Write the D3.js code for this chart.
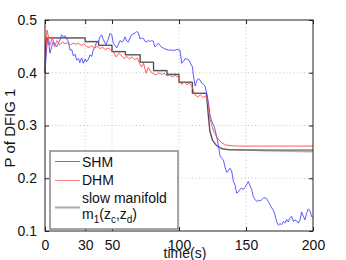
<!DOCTYPE html>
<html><head><meta charset="utf-8">
<script src="https://cdn.jsdelivr.net/npm/d3@7"></script>
<style>body{margin:0;background:#fff}svg{display:block}text{font-family:"Liberation Sans",Arial,sans-serif}</style>
</head><body><svg id="c" width="346" height="260"></svg>
<script>
const xTicks=[0,30,50,100,150,200];
const yTicks=[0.1,0.2,0.3,0.4,0.5];
const xGrid=[30,50,100,150];
const yGrid=[0.2,0.3,0.4];
const legendLabels=["SHM","DHM","slow manifold"];

const shmT=[0,1,2,3,3.7,5,6.2,8.7,11.2,12.4,13.7,15,16.2,17.4,18.7,20,21.1,22.5,23.6,25,26,27.3,28.6,30,31,32.3,33.6,35,36,37.5,38.6,40,41,42.3,43.5,45.5,47,48.5,49.8,51,52.2,53.5,55,56,57.5,58.5,59.7,61,62.2,63.4,64.7,66,67.2,68.4,69.7,70.9,72,73.4,74.6,75.9,77.2,78.4,79.6,80.8,82,83.3,84.6,85.8,87,88.3,89.6,92,94.5,96,98.3,100.7,102,103.2,104.5,105.7,107,108.2,110,110.7,112,113.2,114.4,115.7,117,118.2,119.4,120.6,121.9,123.1,124.4,125.6,126.3,128,129.4,130.6,131.8,133.1,134.3,135.6,136.8,138,139.3,140.5,141.8,143,144.3,145.5,146.8,148,149.3,150.5,151.7,153,154.2,155.4,156.7,158,159.2,160.4,161.7,162.9,164.2,165.4,166.7,167.9,169.2,170.4,171.6,172.9,174.1,175.4,176.6,177.9,179.1,180.3,181.5,182.8,184.1,185.3,186.6,187.8,189,190.3,191.5,192.8,194,195.2,196.5,197.8,199,200];
const shmP=[0.40,0.44,0.465,0.452,0.437,0.45,0.459,0.449,0.462,0.472,0.468,0.47,0.465,0.459,0.443,0.444,0.432,0.435,0.424,0.427,0.419,0.428,0.418,0.426,0.421,0.425,0.434,0.431,0.443,0.45,0.459,0.46,0.468,0.472,0.463,0.453,0.462,0.475,0.472,0.456,0.452,0.447,0.455,0.461,0.458,0.46,0.468,0.46,0.458,0.466,0.472,0.474,0.475,0.478,0.476,0.464,0.466,0.465,0.46,0.458,0.462,0.459,0.461,0.46,0.449,0.452,0.456,0.452,0.448,0.447,0.445,0.443,0.443,0.442,0.444,0.443,0.418,0.421,0.427,0.426,0.425,0.42,0.411,0.396,0.375,0.384,0.389,0.386,0.38,0.378,0.375,0.361,0.345,0.32,0.308,0.302,0.298,0.28,0.262,0.243,0.238,0.235,0.222,0.211,0.214,0.219,0.214,0.195,0.187,0.172,0.174,0.179,0.181,0.179,0.183,0.188,0.194,0.186,0.179,0.165,0.16,0.156,0.158,0.157,0.159,0.162,0.163,0.161,0.156,0.15,0.144,0.139,0.131,0.118,0.111,0.114,0.112,0.118,0.115,0.122,0.117,0.125,0.128,0.118,0.121,0.119,0.115,0.121,0.136,0.128,0.121,0.133,0.142,0.138,0.127,0.125];

const dhmT=[0,0.8,1.5,2.5,3.5,4.5,5.5,7,9,11,13,15,17,19,21,23,25,27,29,31,33,35,37,39,41,43,45,47,49,51,53,55,57,59,61,63,65,67,69,70.5,72,73.5,75.5,77,79,81,83,85,87,89,91,93,95,97,99,100.5,102,104,106,108,110,112,114,116,118,120,121,122,123,124,125,126,128,130,132,135,140,145,150,200];
const dhmP=[0.40,0.45,0.481,0.47,0.452,0.458,0.468,0.449,0.461,0.453,0.458,0.455,0.457,0.453,0.456,0.454,0.456,0.452,0.455,0.45,0.448,0.451,0.447,0.45,0.446,0.448,0.444,0.447,0.443,0.44,0.43,0.437,0.433,0.427,0.431,0.426,0.43,0.425,0.428,0.418,0.411,0.418,0.399,0.41,0.402,0.398,0.396,0.4,0.397,0.399,0.394,0.396,0.392,0.395,0.393,0.385,0.378,0.383,0.377,0.381,0.372,0.358,0.354,0.358,0.353,0.356,0.35,0.336,0.314,0.305,0.296,0.288,0.279,0.272,0.267,0.263,0.2615,0.261,0.261,0.261];

const manT=[0,0.5,1,30,30,40,40,50,50,60,60,71,71,81,81,91,91,100,100,110,110,120.5,121.5,123,125,128,132,137,150,165,200];
const manP=[0.40,0.45,0.466,0.466,0.459,0.459,0.452,0.452,0.440,0.440,0.434,0.434,0.420,0.420,0.404,0.404,0.397,0.397,0.382,0.382,0.361,0.361,0.33,0.29,0.272,0.262,0.256,0.254,0.2535,0.252,0.2505];
const stairT=[0,0.5,1,30,30,40,40,50,50,60,60,71,71,81,81,91,91,100,100,110,110,120.5,121.5,123,125,128,132,137,150,200];
const stairP=[0.40,0.45,0.466,0.466,0.459,0.459,0.452,0.452,0.440,0.440,0.434,0.434,0.420,0.420,0.404,0.404,0.397,0.397,0.382,0.382,0.361,0.361,0.33,0.29,0.272,0.262,0.256,0.254,0.2535,0.2535];

const svg=d3.select("#c");
const L=45,R=313,T=20,B=231;
const x=d3.scaleLinear().domain([0,200]).range([L,R]);
const y=d3.scaleLinear().domain([0.1,0.5]).range([B,T]);

const g=svg.append("g");
g.selectAll(".gx").data(xGrid).join("line").attr("x1",d=>x(d)).attr("x2",d=>x(d)).attr("y1",T).attr("y2",B)
 .attr("stroke","#bbb").attr("stroke-width",0.8).attr("stroke-dasharray","1,2.5");
g.selectAll(".gy").data(yGrid).join("line").attr("y1",d=>y(d)).attr("y2",d=>y(d)).attr("x1",L).attr("x2",R)
 .attr("stroke","#bbb").attr("stroke-width",0.8).attr("stroke-dasharray","1,2.5");

const line=(ts,ps)=>d3.line().x((d,i)=>x(ts[i])).y((d,i)=>y(ps[i]))(ts);
svg.append("path").attr("d",line(manT,manP)).attr("fill","none").attr("stroke","#b0b0b0").attr("stroke-width",1.6);
svg.append("path").attr("d",line(stairT,stairP)).attr("fill","none").attr("stroke","#3a3a3a").attr("stroke-width",0.9);
svg.append("path").attr("d",line(shmT,shmP)).attr("fill","none").attr("stroke","#4848ff").attr("stroke-width",0.9);
svg.append("path").attr("d",line(dhmT,dhmP)).attr("fill","none").attr("stroke","#ff4848").attr("stroke-width",0.9);

// axes
const ax=(gen,tr)=>svg.append("g").attr("transform",tr).call(gen);
const styleAx=s=>{s.select(".domain").remove();s.selectAll("line").attr("stroke","#222");s.selectAll("text").attr("font-size",14).attr("fill","#111").attr("font-family","Liberation Sans, Arial, sans-serif");};
const xb=ax(d3.axisBottom(x).tickValues(xTicks).tickFormat(d3.format("d")).tickSizeInner(-4).tickPadding(9),`translate(0,${B})`);styleAx(xb);
const xt=ax(d3.axisTop(x).tickValues(xTicks).tickSizeInner(-4).tickFormat(""),`translate(0,${T})`);styleAx(xt);
const yl=ax(d3.axisLeft(y).tickValues(yTicks).tickFormat(d3.format(".1f")).tickSizeInner(-4).tickPadding(8),`translate(${L},0)`);styleAx(yl);
const yr=ax(d3.axisRight(y).tickValues(yTicks).tickSizeInner(-4).tickFormat(""),`translate(${R},0)`);styleAx(yr);
svg.append("rect").attr("x",L).attr("y",T).attr("width",R-L).attr("height",B-T).attr("fill","none").attr("stroke","#222").attr("stroke-width",1);

svg.append("text").attr("x",185).attr("y",258).attr("text-anchor","middle").attr("font-size",14).attr("fill","#111").text("time(s)");
svg.append("text").attr("transform","translate(15,128) rotate(-90)").attr("text-anchor","middle").attr("font-size",15).attr("fill","#111").text("P of DFIG 1");

// legend
const lg=svg.append("g");
lg.append("rect").attr("x",50).attr("y",151).attr("width",128).attr("height",78).attr("fill","#fff").attr("stroke","#888").attr("stroke-width",1.5);
const cols=["#6a6aff","#ff8a8a","#aaa"];
const ly=[161.5,180.5,207.5];
lg.selectAll(".ll").data(cols).join("line").attr("x1",55).attr("x2",80).attr("y1",(d,i)=>ly[i]).attr("y2",(d,i)=>ly[i]).attr("stroke",d=>d).attr("stroke-width",(d,i)=>i==2?2:1);
lg.append("text").attr("x",82).attr("y",166.5).attr("font-size",14).attr("fill","#111").text(legendLabels[0]);
lg.append("text").attr("x",82).attr("y",185).attr("font-size",14).attr("fill","#111").text(legendLabels[1]);
lg.append("text").attr("x",82).attr("y",203).attr("font-size",14).attr("fill","#111").text(legendLabels[2]);
const m=lg.append("text").attr("x",82).attr("y",219).attr("font-size",14).attr("fill","#111");
m.append("tspan").text("m");
m.append("tspan").attr("font-size",10).attr("dy",4).text("1");
m.append("tspan").attr("dy",-4).text("(z");
m.append("tspan").attr("font-size",10).attr("dy",4).text("c");
m.append("tspan").attr("dy",-4).text(",z");
m.append("tspan").attr("font-size",10).attr("dy",4).text("d");
m.append("tspan").attr("dy",-4).text(")");
</script></body></html>
